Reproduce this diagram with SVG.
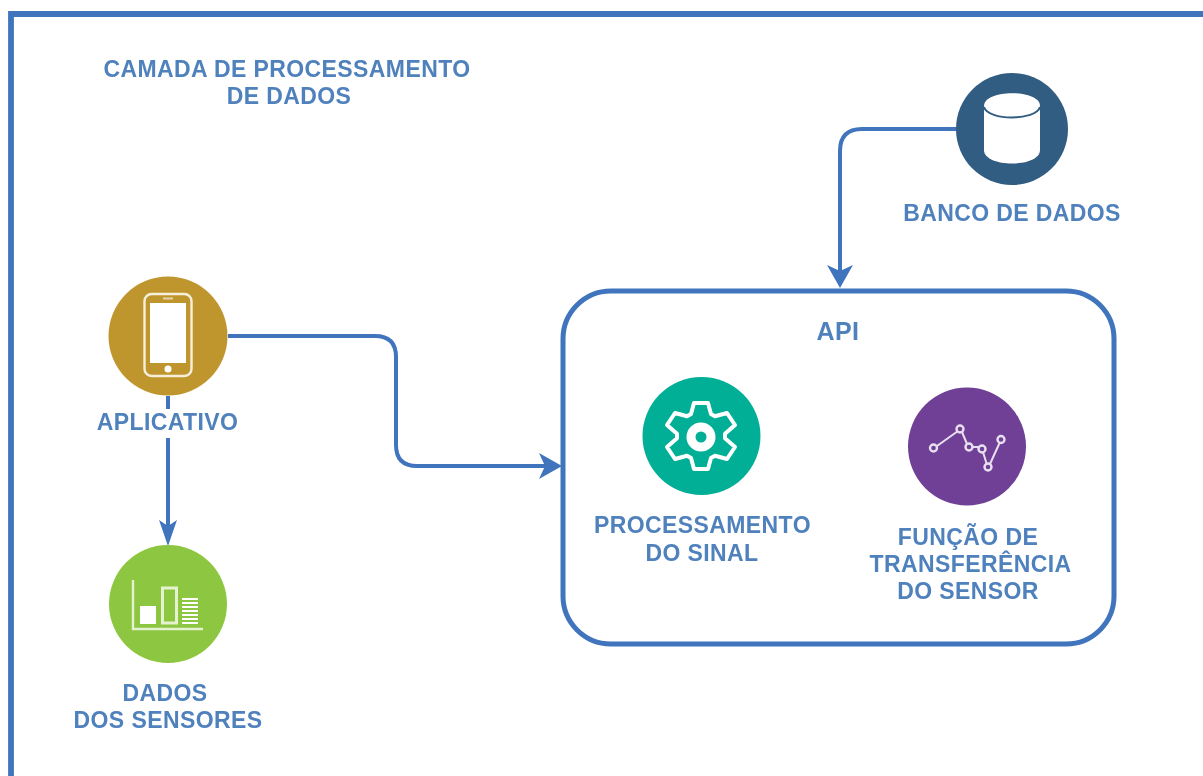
<svg xmlns="http://www.w3.org/2000/svg" width="1203" height="776" viewBox="0 0 1203 776">
<style>
.lbl{font-family:"Liberation Sans",Arial,sans-serif;font-weight:700;font-size:23px;letter-spacing:.4px;fill:#4f81bd;text-anchor:middle}
.conn{fill:none;stroke:#3f75bd;stroke-width:4}
.head{fill:#3f75bd}
</style>
<defs>
<filter id="soft" filterUnits="userSpaceOnUse" x="0" y="0" width="1203" height="776"><feGaussianBlur stdDeviation="0.55"/></filter>
</defs>
<rect width="1203" height="776" fill="#fff"/>
<g filter="url(#soft)">
<path id="frame" d="M11 780 V14 H1210" fill="none" stroke="#3f75bd" stroke-width="5.800"/>
<g id="connectors">
<path class="conn" d="M957 129 H862 Q840 129 840 151 V278"/>
<path class="head" d="M840 288 L827 265 L840 271 L853 265 Z"/>
<path class="conn" d="M228 336 H375 Q396 336 396 357 V445 Q396 466 417 466 H550"/>
<path class="head" d="M562 466 L539 453 L545 466 L539 479 Z"/>
<path class="conn" d="M168 396 V409"/>
<path class="conn" d="M168 438 V534"/>
<path class="head" d="M168 546 L159 520 L168 526 L177 520 Z"/>
</g>
<g id="title"><text class="lbl" x="287" y="77">CAMADA DE PROCESSAMENTO</text><text class="lbl" x="289" y="104">DE DADOS</text></g>
<g id="banco">
<circle cx="1012" cy="129" r="56" fill="#335d82"/>
<path d="M984 106 C984 89 1040 89 1040 106 V150 C1040 168 984 168 984 150 Z" fill="#fff"/>
<path d="M984 107 C988 121 1036 121 1040 107" fill="none" stroke="#335d82" stroke-width="2"/>
<text class="lbl" x="1012" y="221">BANCO DE DADOS</text>
</g>
<g id="aplicativo">
<circle cx="168" cy="336" r="59.500" fill="#bf962f"/>
<rect x="144.500" y="294" width="47" height="82" rx="7" fill="none" stroke="#f6efdc" stroke-width="2.400"/>
<rect x="150" y="303" width="36" height="60" fill="#fff"/>
<circle cx="168" cy="369" r="3.500" fill="#fff"/>
<path d="M163 298.500 H173" stroke="#fff" stroke-width="2" opacity=".6"/>
<text class="lbl" x="167.500" y="430">APLICATIVO</text>
</g>
<g id="dados">
<circle cx="168" cy="604" r="59" fill="#8dc63f"/>
<path d="M133 580 V629 H203" fill="none" stroke="#e4f2cf" stroke-width="2.400"/>
<rect x="140" y="606" width="16" height="18" fill="#fff"/>
<rect x="162.500" y="588" width="14" height="35" fill="none" stroke="#e4f2cf" stroke-width="3"/>
<path d="M182 599 H198 M182 603 H198 M182 607 H198 M182 611 H198 M182 615 H198 M182 619 H198 M182 623 H198" stroke="#fff" stroke-width="2"/>
<text class="lbl" x="165" y="701">DADOS</text>
<text class="lbl" x="168" y="728">DOS SENSORES</text>
</g>
<g id="api">
<rect x="563" y="291" width="551" height="353" rx="48" fill="none" stroke="#3f75bd" stroke-width="5"/>
<text class="lbl" x="838" y="340" style="font-size:25px">API</text>
</g>
<g id="processamento">
<circle cx="701.500" cy="436" r="59" fill="#00af96"/>
<path d="M694 403 L708 403 L711 414 L715 416.300 L727 413 L735 425 L725 433.700 L725 438.300 L735 447 L727 459 L715 455.700 L711 458 L708 469 L694 469 L691 458 L687 455.700 L675 459 L667 447 L677 438.300 L677 433.700 L667 425 L675 413 L687 416.300 L691 414 Z" fill="none" stroke="#fff" stroke-width="4" stroke-linejoin="round"/>
<circle cx="701" cy="437" r="10" fill="none" stroke="#fff" stroke-width="9"/>
<text class="lbl" x="702.500" y="533">PROCESSAMENTO</text>
<text class="lbl" x="702" y="561">DO SINAL</text>
</g>
<g id="funcao">
<circle cx="967" cy="446.500" r="59" fill="#6f3f96"/>
<path d="M937 446 L958 431 M962 432 L967 444 M973 447 H979 M983 452 L987 465 M990 464 L1000 442" fill="none" stroke="#e8e0f0" stroke-width="2"/>
<g fill="none" stroke="#e8e0f0" stroke-width="2.400"><circle cx="933.500" cy="448" r="3.500"/><circle cx="960" cy="429" r="3.500"/><circle cx="969" cy="447" r="3.500"/><circle cx="982" cy="449" r="3.500"/><circle cx="988" cy="467" r="3.500"/><circle cx="1001" cy="439.500" r="3.500"/></g>
<text class="lbl" x="968" y="545">FUNÇÃO DE</text>
<text class="lbl" x="970.500" y="572">TRANSFERÊNCIA</text>
<text class="lbl" x="968" y="599">DO SENSOR</text>
</g>
</g>
</svg>
